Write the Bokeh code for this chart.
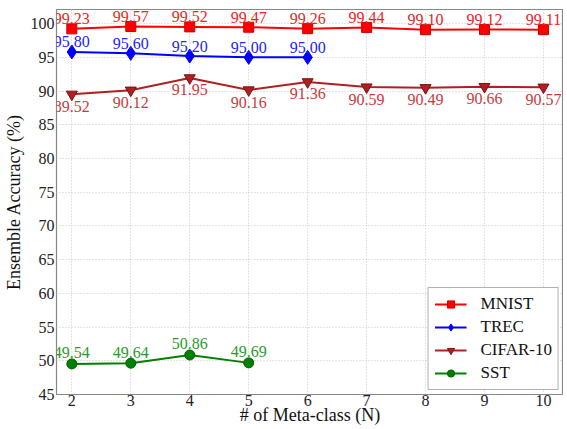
from bokeh.plotting import figure
from bokeh.models import Range1d, ColumnDataSource, FixedTicker, Legend, LegendItem, LabelSet
from bokeh.embed import file_html
from bokeh.resources import INLINE

n_mnist = [2, 3, 4, 5, 6, 7, 8, 9, 10]
mnist = [99.23, 99.57, 99.52, 99.47, 99.26, 99.44, 99.10, 99.12, 99.11]
n_trec = [2, 3, 4, 5, 6]
trec = [95.80, 95.60, 95.20, 95.00, 95.00]
n_cifar = [2, 3, 4, 5, 6, 7, 8, 9, 10]
cifar = [89.52, 90.12, 91.95, 90.16, 91.36, 90.59, 90.49, 90.66, 90.57]
n_sst = [2, 3, 4, 5]
sst = [49.54, 49.64, 50.86, 49.69]
x_ticks = [2, 3, 4, 5, 6, 7, 8, 9, 10]
y_ticks = [45, 50, 55, 60, 65, 70, 75, 80, 85, 90, 95, 100]

FONT = "Liberation Serif"

p = figure(width=563, height=427, output_backend="svg", toolbar_location=None,
           x_range=Range1d(1.74, 10.34), y_range=Range1d(45, 102.1),
           min_border_left=0, min_border_right=0, min_border_top=9, min_border_bottom=0)

p.xaxis.ticker = FixedTicker(ticks=x_ticks)
p.yaxis.ticker = FixedTicker(ticks=y_ticks)
for ax in (p.xaxis[0], p.yaxis[0]):
    ax.major_label_text_font = FONT
    ax.major_label_text_font_size = "16px"
    ax.major_label_text_color = "#222222"
    ax.axis_label_text_font = FONT
    ax.axis_label_text_font_size = "18px"
    ax.axis_label_text_font_style = "normal"
    ax.axis_label_text_color = "#111111"
    ax.major_tick_out = 0
    ax.major_tick_in = 0
    ax.minor_tick_out = 0
    ax.minor_tick_in = 0
    ax.axis_line_color = None
    ax.major_label_standoff = 2
p.xaxis.axis_label = "# of Meta-class (N)"
p.yaxis.axis_label = "Ensemble Accuracy (%)"
p.xaxis.major_label_standoff = 0
p.xaxis.axis_label_standoff = -4
p.yaxis.axis_label_standoff = 4

p.grid.grid_line_color = "#c8c8c8"
p.grid.grid_line_dash = "1 2"
p.outline_line_color = "#888888"
p.outline_line_width = 1.2

series = [
    ("MNIST", n_mnist, mnist, "#ff0000", "#ee2222", "square", "#cc0000", 10, 10),
    ("TREC", n_trec, trec, "#0000ff", "#2222ff", "diamond", "#0000ff", 14, 10),
    ("CIFAR-10", n_cifar, cifar, "#b02020", "#c83a3a", "inverted_triangle", "#7a1010", 11, -12),
    ("SST", n_sst, sst, "#008000", "#2a9a2a", "circle", "#006000", 10, 11),
]

items = []
for name, xs, ys, col, tcol, marker, edge, size, off in series:
    src = ColumnDataSource(dict(x=xs, y=ys, t=["%.2f" % v for v in ys]))
    lr = p.line("x", "y", source=src, line_color=col, line_width=2)
    sr = p.scatter("x", "y", source=src, marker=marker, size=size,
                   fill_color=col, line_color=edge, line_width=1)
    labels = LabelSet(x="x", y="y", text="t", source=src, text_font=FONT,
                      text_font_size="16px", text_color=tcol, text_align="center",
                      text_baseline="middle", y_offset=off)
    p.add_layout(labels)
    items.append(LegendItem(label=name, renderers=[lr, sr]))

legend = Legend(items=items, location="bottom_right")
legend.label_text_font = FONT
legend.label_text_font_size = "17px"
legend.label_text_color = "#111111"
legend.border_line_color = "#666666"
legend.border_line_width = 1
legend.glyph_width = 32
legend.glyph_height = 18
legend.spacing = 3
legend.padding = 6
legend.margin = 4
legend.label_standoff = 14
p.add_layout(legend)

open("out.html", "w").write(file_html(p, INLINE))
